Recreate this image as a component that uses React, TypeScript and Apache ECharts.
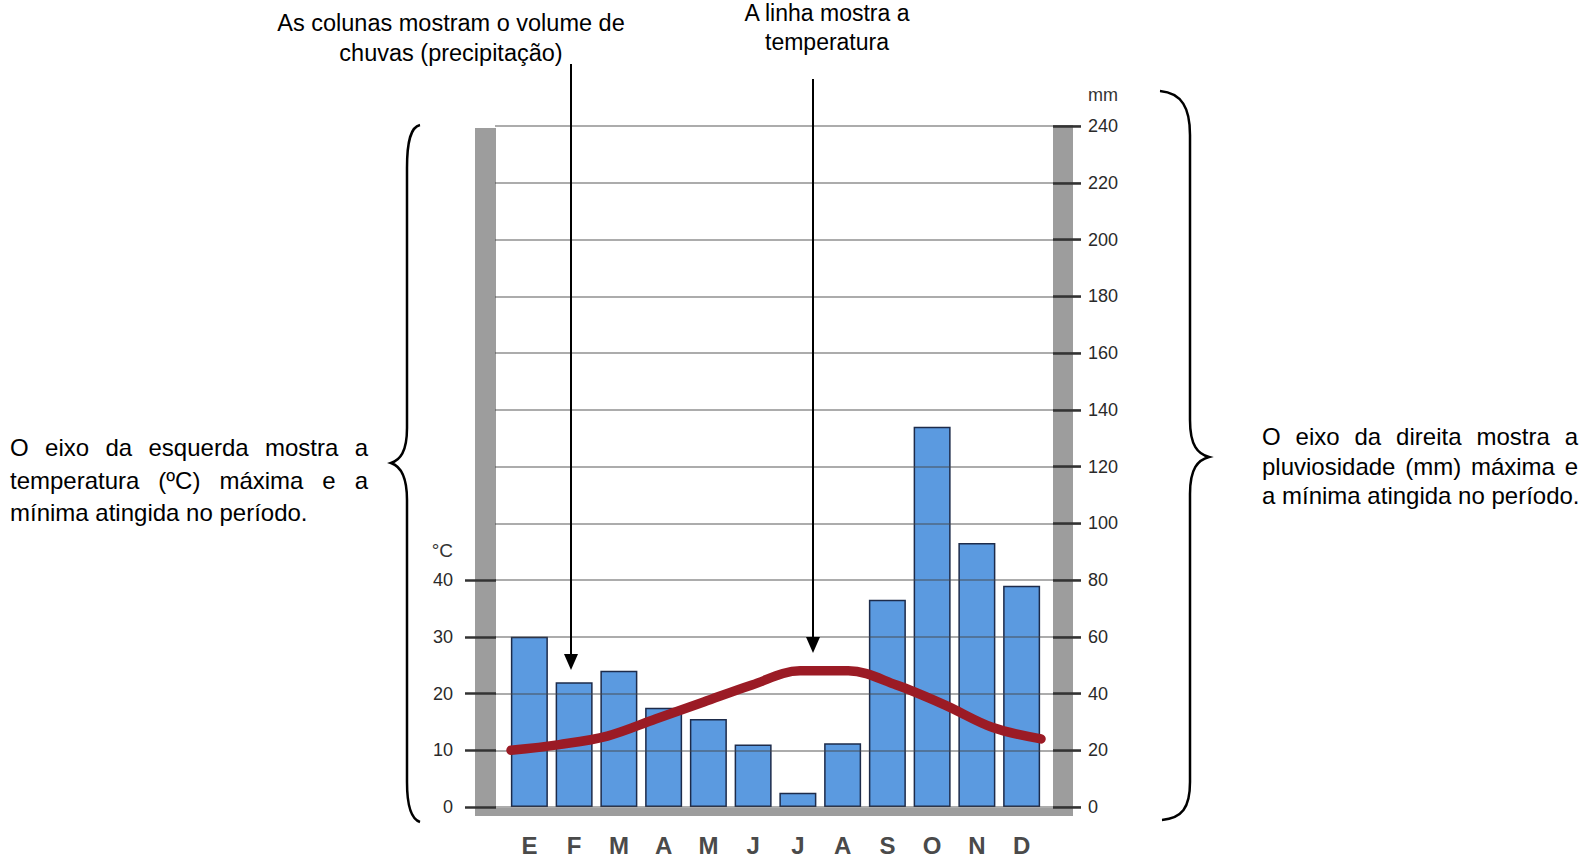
import React, { useEffect, useRef } from "react";
import * as echarts from "echarts";

const months = ["E", "F", "M", "A", "M", "J", "J", "A", "S", "O", "N", "D"];
const precipitationMm = [60, 44, 48, 35, 31, 22, 5, 22.5, 73, 134, 93, 78];
const temperatureC = [10, 11, 12.5, 15.5, 18.5, 21.5, 24, 24, 21.5, 18, 14, 12];
const tempTicks = { min: 0, max: 40, step: 10 };
const tempScaleMax = 120;
const rainTicks = { min: 0, max: 240, step: 20 };

const topNoteLeft = ["As colunas mostram o volume de", "chuvas (precipitação)"];
const topNoteRight = ["A linha mostra a", "temperatura"];
const leftNote = ["O eixo da esquerda mostra a", "temperatura (ºC) máxima e a", "mínima atingida no período."];
const rightNote = ["O eixo da direita mostra a", "pluviosidade (mm) máxima e", "a mínima atingida no período."];

const FONT = "'Liberation Sans', Arial, Helvetica, sans-serif";

const braceLeft =
  "M 420 125 C 411 127 407 140 407 168 L 407 428 C 407 452 400 460 391 463 C 400 466 407 476 407 500 L 407 782 C 407 806 411 819 420 822";
const braceRight =
  "M 1160 91 C 1182 93 1190 108 1190 135 L 1190 420 C 1190 446 1198 454 1209 457 C 1198 460 1190 468 1190 494 L 1190 782 C 1190 808 1182 818 1162 820";

try {
  echarts.graphic.registerShape("braceL", echarts.graphic.extendPath(braceLeft, {}));
  echarts.graphic.registerShape("braceR", echarts.graphic.extendPath(braceRight, {}));
} catch (e) {}

function justifiedParagraph(lines: string[], x0: number, x1: number, ys: number[], size: number) {
  const canvas = document.createElement("canvas");
  const ctx = canvas.getContext("2d")!;
  ctx.font = `${size}px 'Liberation Sans'`;
  const els: any[] = [];
  lines.forEach((line, li) => {
    const style = { fontSize: size, fontFamily: FONT, fill: "#000", textVerticalAlign: "middle", textAlign: "left" };
    if (li === lines.length - 1) {
      els.push({ type: "text", x: x0, y: ys[li], z: 50, style: { ...style, text: line } });
      return;
    }
    const words = line.split(" ");
    const widths = words.map((w) => ctx.measureText(w).width);
    const total = widths.reduce((a, b) => a + b, 0);
    const gap = (x1 - x0 - total) / (words.length - 1);
    let x = x0;
    words.forEach((w, i) => {
      els.push({ type: "text", x, y: ys[li], z: 50, style: { ...style, text: w } });
      x += widths[i] + gap;
    });
  });
  return els;
}

function arrow(x: number, y0: number, tip: number) {
  return [
    { type: "line", z: 100, shape: { x1: x, y1: y0, x2: x, y2: tip - 10 }, style: { stroke: "#000", lineWidth: 2 } },
    {
      type: "polygon",
      z: 100,
      shape: { points: [[x - 7, tip - 16], [x + 7, tip - 16], [x, tip]] },
      style: { fill: "#000" },
    },
  ];
}

export default function App() {
  const ref = useRef<HTMLDivElement>(null);
  useEffect(() => {
    if (!ref.current) return;
    const chart = echarts.init(ref.current, null, { renderer: "svg" });
    const grey = "#9d9d9d";
    const textStyle = (t: string, x: number, y: number, size: number, align = "center") => ({
      type: "text",
      x,
      y,
      z: 50,
      style: { text: t, fontSize: size, fontFamily: FONT, fill: "#000", textAlign: align, textVerticalAlign: "middle" },
    });
    const graphics: any[] = [
      { type: "rect", z: 0, shape: { x: 475, y: 128, width: 21, height: 688 }, style: { fill: grey } },
      { type: "rect", z: 0, shape: { x: 1053, y: 125, width: 20, height: 691 }, style: { fill: grey } },
      { type: "rect", z: 0, shape: { x: 475, y: 808, width: 598, height: 8 }, style: { fill: grey } },
      textStyle(topNoteLeft[0], 451, 23, 23.5),
      textStyle(topNoteLeft[1], 451, 53, 23.5),
      textStyle(topNoteRight[0], 827, 13, 23),
      textStyle(topNoteRight[1], 827, 42, 23),
      ...arrow(571, 64, 670),
      ...arrow(813, 79, 653),
      ...justifiedParagraph(leftNote, 10, 368, [447, 480, 512], 24),
      ...justifiedParagraph(rightNote, 1262, 1578, [436, 466, 495], 24),
      { type: "braceL", z: 60, x: 0, y: 0, shape: {}, style: { stroke: "#000", fill: "none", lineWidth: 2.5 } },
      { type: "braceR", z: 60, x: 0, y: 0, shape: {}, style: { stroke: "#000", fill: "none", lineWidth: 2.5 } },
      {
        type: "text",
        x: 1088,
        y: 95,
        z: 50,
        style: { text: "mm", fontSize: 18, fontFamily: FONT, fill: "#333", textAlign: "left", textVerticalAlign: "middle" },
      },
      {
        type: "text",
        x: 453,
        y: 550,
        z: 50,
        style: { text: "°C", fontSize: 19, fontFamily: FONT, fill: "#333", textAlign: "right", textVerticalAlign: "middle" },
      },
    ];

    const top = 126;
    const bottom = 857 - 807;
    const step = (807 - 126) / 12;
    const W = 1591;

    const darkSplit = { show: true, lineStyle: { color: "#333", width: 2.5 } };
    const bare = { axisLine: { show: false }, axisTick: { show: false } };

    chart.setOption({
      animation: false,
      backgroundColor: "#ffffff",
      grid: [
        { left: 507, right: W - 1044, top, bottom }, // bars
        { left: 495, right: W - 1081, top, bottom }, // gridlines + right labels
        { left: 465, right: W - 496, top: 807 - 4 * step, bottom }, // left ticks 0..40
        { left: 1053, right: W - 1081, top, bottom }, // right ticks
        { left: 511, right: W - 1041, top, bottom }, // temperature line
      ],
      xAxis: [
        {
          type: "category",
          gridIndex: 0,
          data: months,
          axisLine: { show: false },
          axisTick: { show: false },
          axisLabel: { margin: 26, fontSize: 24, fontWeight: "bold", color: "#4a4a4a", fontFamily: FONT },
        },
        { type: "value", gridIndex: 1, show: false },
        { type: "value", gridIndex: 2, show: false },
        { type: "value", gridIndex: 3, show: false },
        { type: "category", gridIndex: 4, data: months, boundaryGap: false, show: false },
      ],
      yAxis: [
        { type: "value", gridIndex: 0, min: rainTicks.min, max: rainTicks.max, interval: rainTicks.step, show: false },
        {
          type: "value",
          gridIndex: 1,
          position: "right",
          min: rainTicks.min,
          max: rainTicks.max,
          interval: rainTicks.step,
          z: 3,
          ...bare,
          axisLabel: { margin: 7, fontSize: 18, color: "#2a2a2a", fontFamily: FONT },
          splitLine: { show: true, lineStyle: { color: "rgba(70,70,70,0.6)", width: 1.6 } },
        },
        {
          type: "value",
          gridIndex: 2,
          position: "left",
          min: tempTicks.min,
          max: tempTicks.max,
          interval: tempTicks.step,
          z: 3,
          ...bare,
          axisLabel: { margin: 12, fontSize: 18, color: "#2a2a2a", fontFamily: FONT },
          splitLine: darkSplit,
        },
        {
          type: "value",
          gridIndex: 3,
          min: rainTicks.min,
          max: rainTicks.max,
          interval: rainTicks.step,
          z: 3,
          ...bare,
          axisLabel: { show: false },
          splitLine: darkSplit,
        },
        { type: "value", gridIndex: 4, min: 0, max: tempScaleMax, interval: tempTicks.step, show: false },
      ],
      series: [
        {
          type: "bar",
          xAxisIndex: 0,
          yAxisIndex: 0,
          data: precipitationMm,
          barWidth: 37,
          z: 1,
          itemStyle: { color: "#5b9ae0", borderColor: "#1d2b4a", borderWidth: 1.5 },
        },
        {
          type: "line",
          xAxisIndex: 4,
          yAxisIndex: 4,
          data: temperatureC,
          smooth: 0.35,
          symbol: "none",
          z: 5,
          lineStyle: { color: "#9b1b25", width: 9.5, cap: "round", join: "round" },
        },
      ],
      graphic: { elements: graphics },
    });
    return () => chart.dispose();
  }, []);
  return <div ref={ref} style={{ position: "fixed", left: 0, top: 0, width: 1591, height: 857 }} />;
}
